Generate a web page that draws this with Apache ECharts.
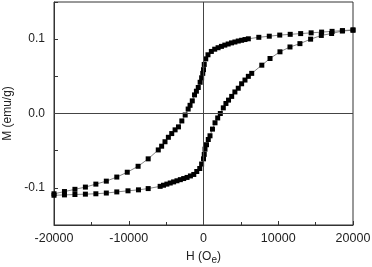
<!DOCTYPE html>
<html>
<head>
<meta charset="utf-8">
<script src="https://cdn.jsdelivr.net/npm/echarts@6/dist/echarts.min.js"></script>
<style>html,body{margin:0;padding:0;background:#fff}#c{width:372px;height:267px}</style>
</head>
<body>
<div id="c"></div>
<script>
// Descending-field branch (upper)
var hDown = [20000,18600,17200,15800,14400,13000,11600,10200,8800,7400,6000,
  5550,5100,4650,4200,3750,3300,2850,2400,1950,1500,1050,600,300,100,0,
  -100,-250,-450,-700,-950,-1200,-1500,-1800,-2050,-2450,-2900,-3350,-3800,-4250,-4700,-5150,-5600,-6050,
  -7400,-8750,-10200,-11600,-13000,-14400,-15800,-17200,-18600,-20000];
var mDown = [0.1125,0.1115,0.1105,0.1095,0.1085,0.1075,0.1065,0.1055,0.104,0.1025,0.1005,
  0.0995,0.0985,0.0975,0.0962,0.095,0.0935,0.092,0.0903,0.0885,0.0865,0.0835,0.079,0.0735,0.066,0.059,
  0.054,0.048,0.042,0.035,0.030,0.025,0.017,0.011,0.006,-0.002,-0.010,-0.018,-0.022,-0.027,-0.032,-0.038,-0.044,-0.049,
  -0.061,-0.071,-0.079,-0.0855,-0.091,-0.095,-0.099,-0.102,-0.105,-0.108];
// Ascending-field branch (lower)
var hUp = [-20000,-18600,-17200,-15800,-14400,-13000,-11600,-10100,-8700,-7400,-5800,
  -5350,-4900,-4450,-4000,-3550,-3100,-2650,-2200,-1750,-1300,-900,-500,-250,0,100,200,400,640,870,
  1200,1540,1900,2250,2650,3000,3350,3770,4200,4650,5100,5550,6000,6450,
  7800,8900,10230,11570,12900,14330,15760,17140,18570,20000];
var mUp = [-0.110,-0.1095,-0.109,-0.1085,-0.108,-0.107,-0.1055,-0.104,-0.1027,-0.101,-0.098,
  -0.0965,-0.095,-0.0935,-0.092,-0.0905,-0.089,-0.0875,-0.086,-0.084,-0.082,-0.078,-0.074,-0.068,-0.061,-0.055,-0.048,-0.042,-0.035,-0.030,
  -0.021,-0.0125,-0.006,0.000,0.0076,0.0135,0.018,0.023,0.029,0.034,0.040,0.045,0.050,0.054,
  0.065,0.074,0.083,0.0895,0.094,0.100,0.105,0.1076,0.111,0.112];
var xTicks = [-20000,-10000,0,10000,20000];
var yTickLabels = [-0.1,0.0,0.1];

function pairs(h,m){return h.map(function(v,i){return [v,m[i]];});}

var font = 'Liberation Sans, Arial, sans-serif';
var chart = echarts.init(document.getElementById('c'));
var seriesBase = {
  type:'line', symbol:'rect', symbolSize:5, smooth:false,
  itemStyle:{color:'#000'}, lineStyle:{color:'#666',width:0.8},
  animation:false, z:3
};
chart.setOption({
  animation:false,
  grid:{left:54,right:19,top:2,bottom:42,show:true,borderColor:'#333',borderWidth:1,
    containLabel:false,outerBoundsMode:'none'},
  xAxis:{type:'value',min:xTicks[0],max:xTicks[xTicks.length-1],interval:10000,
    axisLine:{show:true,onZero:false,lineStyle:{color:'#333'}},
    axisTick:{show:true,inside:true,length:4,lineStyle:{color:'#333'}},
    minorTick:{show:true,splitNumber:2,length:3,lineStyle:{color:'#333'}},
    splitLine:{show:false},
    axisLabel:{color:'#222',fontSize:12.5,fontFamily:font,margin:7,
      formatter:function(v){return String(v);}},
    name:'{a|H (O}{s|e}{a|)}',nameLocation:'middle',nameGap:23,
    nameTextStyle:{rich:{a:{fontSize:12,fontFamily:font,color:'#222'},s:{fontSize:10,fontFamily:font,color:'#222',padding:[7,0,0,0]}}}
  },
  yAxis:{type:'value',min:-0.15,max:0.15,interval:0.05,
    axisLine:{show:true,onZero:false,lineStyle:{color:'#333'}},
    axisTick:{show:true,inside:true,length:4,lineStyle:{color:'#333'}},
    splitLine:{show:false},
    axisLabel:{color:'#222',fontSize:12,fontFamily:font,margin:9,
      formatter:function(v){
        for(var i=0;i<yTickLabels.length;i++){ if(Math.abs(v-yTickLabels[i])<1e-6) return yTickLabels[i].toFixed(1); }
        return '';
      }},
    name:'M (emu/g)',nameLocation:'middle',nameGap:39,
    nameTextStyle:{fontSize:12,fontFamily:font,color:'#222'}
  },
  series:[
    Object.assign({},seriesBase,{data:pairs(hDown,mDown),
      markLine:{silent:true,symbol:'none',label:{show:false},animation:false,
        lineStyle:{color:'#444',width:1,type:'solid'},
        data:[{xAxis:0},{yAxis:0}]}}),
    Object.assign({},seriesBase,{data:pairs(hUp,mUp)})
  ]
});
</script>
</body>
</html>
